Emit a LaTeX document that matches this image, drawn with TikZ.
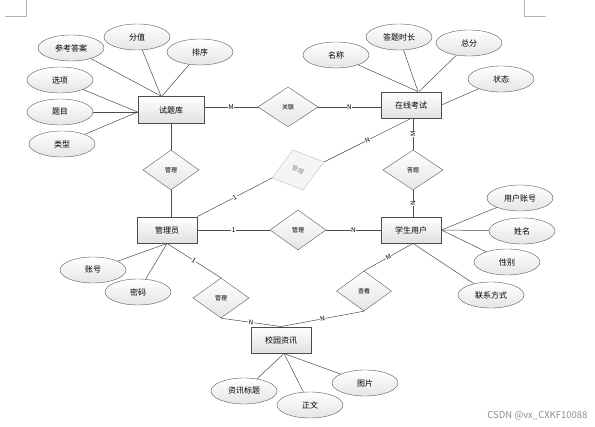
\documentclass[tikz,border=0pt]{standalone}
\usepackage{fontspec}
\setmainfont{Noto Sans CJK SC}
\usetikzlibrary{shapes.geometric}
\begin{document}
\begin{tikzpicture}[x=1pt,y=-1pt,
  entity/.style={draw=black!70,line width=0.9pt,top color=white,bottom color=black!12,minimum width=60pt,minimum height=26pt,inner sep=0pt,font=\fontsize{8}{9}\selectfont},
  attr/.style={ellipse,draw=black!65,top color=white,bottom color=black!10,minimum width=66pt,minimum height=26pt,inner sep=0pt,font=\fontsize{8}{9}\selectfont},
  rel/.style={diamond,draw=black!65,top color=white,bottom color=black!10,minimum width=56pt,minimum height=40pt,inner sep=0pt,font=\fontsize{6}{7}\selectfont},
  card/.style={fill=white,inner sep=0.5pt,font=\fontsize{6.5}{7}\selectfont},
  link/.style={draw=black!70,line width=0.5pt}]
\useasboundingbox (0,0) rectangle (595,427);
% page corner marks
\draw[black!30] (5,16)--(26,16)--(26,0);
\draw[black!30] (524,0)--(524,16)--(546,16);
% entities
\node[entity,minimum width=66pt,minimum height=27pt] (tk) at (171,110) {试题库};
\node[entity] (zx) at (411,105) {在线考试};
\node[entity] (gly) at (167,230) {管理员};
\node[entity] (xs) at (411,230) {学生用户};
\node[entity] (xx) at (281,340) {校园资讯};
% relations
\node[rel,minimum width=60pt] (gl) at (288,107) {关联};
\node[rel] (gl1) at (171,170) {管理};
\node[rel,minimum width=60pt] (dt) at (413,170) {答题};
\node[rel] (gl2) at (298,230) {管理};
\node[rel] (gl3) at (221,298) {管理};
\node[rel,minimum width=55pt] (ck) at (364,291) {查看};
% faint tilted relation
\coordinate (fa) at (293,150);
\coordinate (fb) at (324,162);
\coordinate (fc) at (303,190);
\coordinate (fd) at (272,178);
\draw[black!25,fill=black!4] (fa)--(fb)--(fc)--(fd)--cycle;
\node[rotate=-21,text=black!45,font=\fontsize{6}{7}\selectfont] (gl4) at (298,170) {管理};
% attributes
\node[attr] (ckda) at (71,48) {参考答案};
\node[attr] (fz) at (137,37) {分值};
\node[attr] (px) at (200,52) {排序};
\node[attr] (xq) at (60,80) {选项};
\node[attr] (tm) at (60,112) {题目};
\node[attr] (lx) at (62,144) {类型};
\node[attr] (mc) at (336,55) {名称};
\node[attr] (dtsc) at (399,37) {答题时长};
\node[attr] (zf) at (469,43) {总分};
\node[attr] (zt) at (501,79) {状态};
\node[attr] (yhzh) at (520,198) {用户账号};
\node[attr] (xm) at (522,231) {姓名};
\node[attr] (xb) at (507,262) {性别};
\node[attr] (lxfs) at (491,295) {联系方式};
\node[attr] (zh) at (93,270) {账号};
\node[attr] (mm) at (138,292) {密码};
\node[attr] (zxbt) at (244,391) {资讯标题};
\node[attr] (zw) at (310,405) {正文};
\node[attr] (tp) at (365,383) {图片};
% attribute links
\draw[link] (ckda) -- ([xshift=-10pt]tk.north);
\draw[link] (fz) -- ([xshift=-10pt]tk.north);
\draw[link] (px) -- ([xshift=-9pt]tk.north);
\draw[link] (xq) -- ([yshift=-2pt]tk.west);
\draw[link] (tm) -- ([yshift=-2pt]tk.west);
\draw[link] (lx) -- ([yshift=-2pt]tk.west);
\draw[link] (mc) -- ([xshift=7pt]zx.north);
\draw[link] (dtsc) -- ([xshift=7pt]zx.north);
\draw[link] (zf) -- ([xshift=8pt]zx.north);
\draw[link] (zt) -- (zx.east);
\draw[link] (yhzh) -- (xs.east);
\draw[link] (xm) -- (xs.east);
\draw[link] (xb) -- (xs.east);
\draw[link] (lxfs) -- ([xshift=2pt]xs.south);
\draw[link] (zh) -- (gly.south);
\draw[link] (mm) -- (gly.south);
\draw[link] (zxbt) -- ([xshift=3pt]xx.south);
\draw[link] (zw) -- ([xshift=3pt]xx.south);
\draw[link] (tp) -- ([xshift=3pt]xx.south);
% relation links
\draw[link] (tk.east |- gl.west) -- node[card] {M} (gl.west);
\draw[link] (gl.east) -- node[card] {N} (zx.west |- gl.east);
\draw[link] (tk.south) -- (gl1.north);
\draw[link] (gl1.south) -- (gl1.south |- gly.north);
\draw[link] (dt.north |- zx.south) -- node[card,rotate=90] {M} (dt.north);
\draw[link] (dt.south) -- node[card,rotate=90] {N} (dt.south |- xs.north);
\draw[link] (gly.east) -- node[card] {1} (gl2.west);
\draw[link] (gl2.east) -- node[card] {N} (xs.west);
\draw[link] (gly.north east) -- node[card,sloped] {1} (fd);
\draw[link] (zx.south) -- node[card,sloped] {N} (fb);
\draw[link] (gly.south) -- node[card,sloped] {1} (gl3.north);
\draw[link] (gl3.south) -- node[card,sloped] {N} (xx.north);
\draw[link] ([xshift=2pt]xs.south) -- node[card,sloped] {M} (ck.north);
\draw[link] (ck.south) -- node[card,sloped] {N} (xx.north);
% watermark
\node[text=black!45,font=\fontsize{9.5}{10}\selectfont,anchor=east] (wm) at (591,416) {CSDN @vx\_CXKF10088};
\end{tikzpicture}
\end{document}
